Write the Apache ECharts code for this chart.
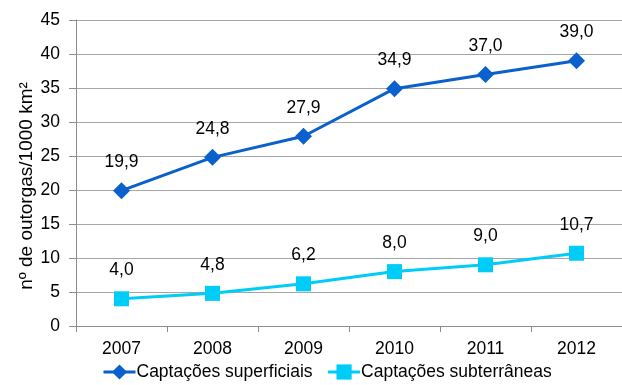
<!DOCTYPE html>
<html>
<head>
<meta charset="utf-8">
<script src="https://cdn.jsdelivr.net/npm/echarts@6/dist/echarts.min.js"></script>
<style>
  html, body { margin: 0; padding: 0; background: #fff; }
  #chart { width: 622px; height: 385px; }
</style>
</head>
<body>
<div id="chart"></div>
<script>
// Outorgas por 1000 km², 2007–2012
const years = ['2007', '2008', '2009', '2010', '2011', '2012'];
const superficiais = [19.9, 24.8, 27.9, 34.9, 37.0, 39.0];
const subterraneas = [4.0, 4.8, 6.2, 8.0, 9.0, 10.7];
const seriesNames = ['Captações superficiais', 'Captações subterrâneas'];
const yTitle = 'nº de outorgas/1000 km²';

const font = 'Liberation Sans, Arial, sans-serif';
const fs = 17.5;
const fmt = p => p.value.toFixed(1).replace('.', ',');

const chart = echarts.init(document.getElementById('chart'), null, { renderer: 'canvas' });
chart.setOption({
  animation: false,
  backgroundColor: '#ffffff',
  grid: { left: 76, right: 0, top: 20, bottom: 59 },
  legend: {
    bottom: -1,
    left: 97,
    itemGap: 14,
    itemWidth: 32,
    itemHeight: 19,
    lineStyle: { width: 3 },
    textStyle: { fontFamily: font, fontSize: fs, color: '#000', padding: [0, 0, 0, -4] },
    data: seriesNames
  },
  xAxis: {
    type: 'category',
    data: years,
    boundaryGap: true,
    axisLine: { lineStyle: { color: '#8c8c8c', width: 1 } },
    axisTick: { show: true, length: 6, lineStyle: { color: '#8c8c8c' } },
    axisLabel: { fontFamily: font, fontSize: fs, color: '#000', margin: 14 }
  },
  yAxis: {
    type: 'value',
    min: 0,
    max: 45,
    interval: 5,
    name: yTitle,
    nameLocation: 'middle',
    nameGap: 40,
    nameMoveOverlap: false,
    nameTextStyle: { fontFamily: font, fontSize: 19, color: '#000', padding: [0, 26, 0, 0] },
    axisLine: { show: true, lineStyle: { color: '#8c8c8c', width: 1 } },
    axisTick: { show: true, length: 7, lineStyle: { color: '#8c8c8c' } },
    axisLabel: { fontFamily: font, fontSize: fs, color: '#000', margin: 16 },
    splitLine: { lineStyle: { color: '#a6a6a6', width: 1 } }
  },
  series: [
    {
      name: seriesNames[0],
      type: 'line',
      data: superficiais,
      symbol: 'diamond',
      symbolSize: 17,
      color: '#0a60cc',
      lineStyle: { width: 3, color: '#0a60cc' },
      itemStyle: { color: '#0a60cc' },
      label: {
        show: true, position: 'top', distance: 11,
        formatter: fmt, fontFamily: font, fontSize: fs, color: '#000'
      }
    },
    {
      name: seriesNames[1],
      type: 'line',
      data: subterraneas,
      symbol: 'rect',
      symbolSize: 15,
      color: '#00ccf8',
      lineStyle: { width: 3, color: '#00ccf8' },
      itemStyle: { color: '#00ccf8' },
      label: {
        show: true, position: 'top', distance: 12,
        formatter: fmt, fontFamily: font, fontSize: fs, color: '#000'
      }
    }
  ]
});
</script>
</body>
</html>
